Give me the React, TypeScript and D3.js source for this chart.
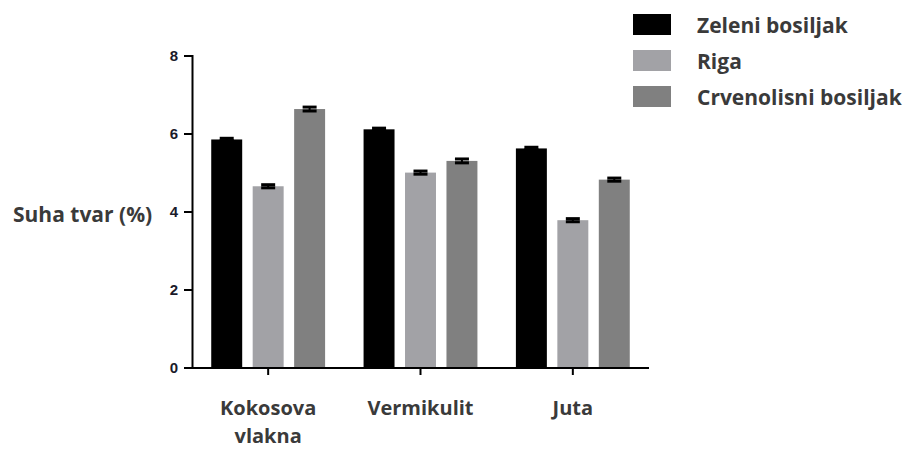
import React from "react";
import * as d3 from "d3";

const categories = ["Kokosova vlakna", "Vermikulit", "Juta"];
const seriesNames = ["Zeleni bosiljak", "Riga", "Crvenolisni bosiljak"];
const seriesColors = ["#000000", "#a2a2a6", "#808080"];
const zeleni = [5.86, 6.12, 5.63];
const riga = [4.66, 5.01, 3.79];
const crvenolisni = [6.64, 5.31, 4.83];
const zeleniErr = [0.03, 0.03, 0.03];
const rigaErr = [0.04, 0.04, 0.04];
const crvenolisniErr = [0.05, 0.05, 0.04];
const yTicks = [0, 2, 4, 6, 8];

const values = [zeleni, riga, crvenolisni];
const errors = [zeleniErr, rigaErr, crvenolisniErr];

const W = 906;
const H = 450;
const textFont = "'Open Sans', sans-serif";
const tickFont = "'Liberation Sans Narrow', 'Liberation Sans', Arial, sans-serif";
const textColor = "#3a3a3a";
const textSize = 21;

export default function App() {
  const x0 = d3.scaleBand<string>().domain(categories).range([192, 649]).paddingInner(0).paddingOuter(0);
  const x1 = d3
    .scaleBand<string>()
    .domain(seriesNames)
    .range([0, x0.bandwidth()])
    .paddingInner(0.253)
    .paddingOuter(0.464);
  const y = d3.scaleLinear().domain([0, 8]).range([368, 56]);

  return (
    <svg
      width={W}
      height={H}
      style={{ position: "absolute", left: 0, top: 0, background: "#fff" }}
    >
      <rect x={0} y={0} width={W} height={H} fill="#fff" />
      {/* bars */}
      {categories.map((c, ci) =>
        seriesNames.map((s, si) => {
          const v = values[si][ci];
          const e = errors[si][ci];
          const bx = (x0(c) as number) + (x1(s) as number);
          const bw = x1.bandwidth();
          const cx = bx + bw / 2;
          return (
            <g key={c + s}>
              <rect x={bx} y={y(v)} width={bw} height={y(0) - y(v)} fill={seriesColors[si]} />
              <line x1={cx} x2={cx} y1={y(v - e)} y2={y(v + e)} stroke="#000" strokeWidth={2} />
              <line x1={cx - 7} x2={cx + 7} y1={y(v + e)} y2={y(v + e)} stroke="#000" strokeWidth={3} />
              <line x1={cx - 7} x2={cx + 7} y1={y(v - e)} y2={y(v - e)} stroke="#000" strokeWidth={3} />
            </g>
          );
        })
      )}
      {/* y axis */}
      <line x1={192.5} x2={192.5} y1={y(8) - 1} y2={y(0) + 1} stroke="#000" strokeWidth={2} />
      {yTicks.map((t) => (
        <g key={t}>
          <line x1={184} x2={192} y1={y(t)} y2={y(t)} stroke="#000" strokeWidth={2} />
          <text
            x={178}
            y={y(t)}
            dy="0.36em"
            textAnchor="end"
            fontFamily={tickFont}
            fontWeight="bold"
            fontSize={15}
            fill="#1a1a2a"
          >
            {t}
          </text>
        </g>
      ))}
      {/* x axis */}
      <line x1={184} x2={649} y1={y(0)} y2={y(0)} stroke="#000" strokeWidth={2} />
      {categories.map((c) => {
        const cx = (x0(c) as number) + x0.bandwidth() / 2;
        const lines = c.split(" ");
        return (
          <g key={c}>
            <line x1={cx} x2={cx} y1={y(0)} y2={y(0) + 7} stroke="#000" strokeWidth={2} />
            {lines.map((ln, li) => (
              <text
                key={ln}
                x={cx}
                y={415 + li * 28}
                textAnchor="middle"
                fontFamily={textFont}
                fontWeight="bold"
                fontSize={20}
                fill={textColor}
              >
                {ln}
              </text>
            ))}
          </g>
        );
      })}
      {/* y title */}
      <text x={13} y={222} fontFamily={textFont} fontWeight="bold" fontSize={textSize} fill={textColor}>
        Suha tvar (%)
      </text>
      {/* legend */}
      {seriesNames.map((s, si) => (
        <g key={s}>
          <rect x={633} y={14 + si * 36} width={38} height={21} fill={seriesColors[si]} />
          <text
            x={697}
            y={33 + si * 36}
            fontFamily={textFont}
            fontWeight="bold"
            fontSize={textSize}
            fill={textColor}
          >
            {s}
          </text>
        </g>
      ))}
    </svg>
  );
}
